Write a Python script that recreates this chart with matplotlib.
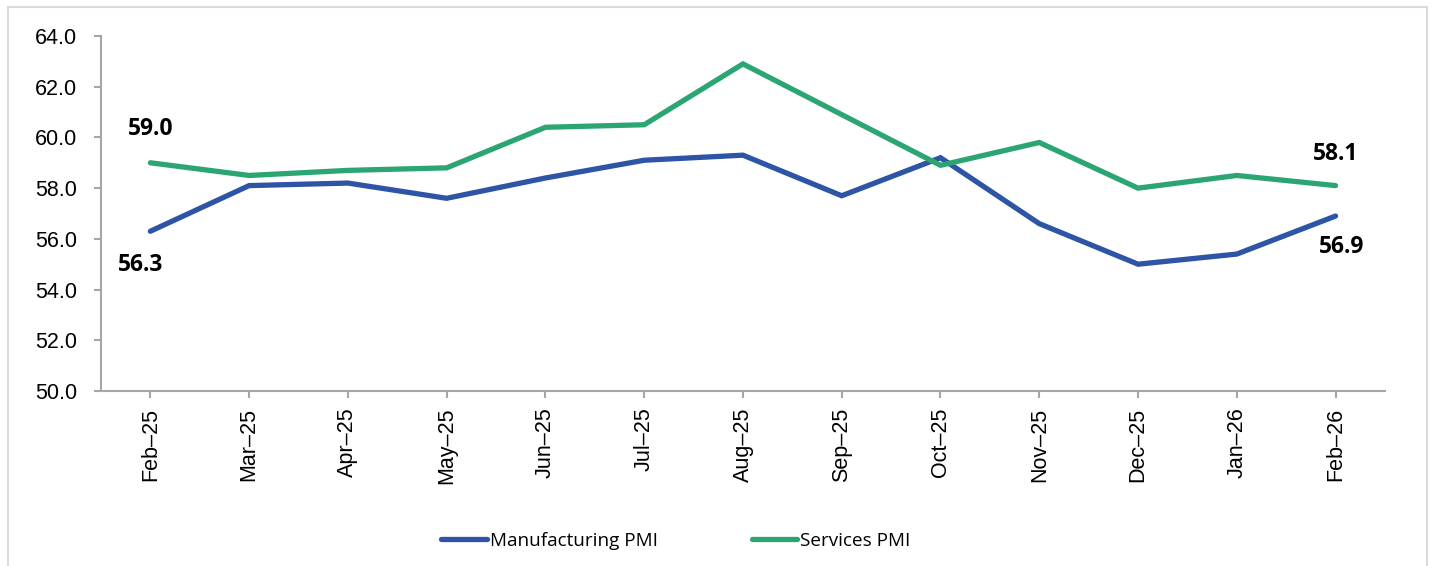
import matplotlib
matplotlib.use("Agg")
import matplotlib.pyplot as plt
from matplotlib.patches import Rectangle

months = ["Feb-25", "Mar-25", "Apr-25", "May-25", "Jun-25", "Jul-25", "Aug-25",
          "Sep-25", "Oct-25", "Nov-25", "Dec-25", "Jan-26", "Feb-26"]
manufacturing = [56.3, 58.1, 58.2, 57.6, 58.4, 59.1, 59.3, 57.7, 59.2, 56.6, 55.0, 55.4, 56.9]
services = [59.0, 58.5, 58.7, 58.8, 60.4, 60.5, 62.9, 60.9, 58.9, 59.8, 58.0, 58.5, 58.1]
yticks = [50.0, 52.0, 54.0, 56.0, 58.0, 60.0, 62.0, 64.0]

blue = "#2E54A6"
green = "#2BA672"
axis_gray = "#A6A6A6"

fig = plt.figure(figsize=(14.34, 5.66), dpi=100)
ax = fig.add_axes([0.0704, 0.3092, 0.8954, 0.6272])

x = list(range(len(months)))
ax.plot(x, manufacturing, color=blue, lw=3.8, solid_joinstyle="miter",
        solid_capstyle="round", label="Manufacturing PMI")
ax.plot(x, services, color=green, lw=3.8, solid_joinstyle="miter",
        solid_capstyle="round", label="Services PMI")

ax.set_xlim(-0.5, len(months) - 0.5)
ax.set_ylim(50, 64)
ax.set_yticks(yticks)
ax.set_yticklabels([f"{v:.1f}" for v in yticks], family="Liberation Sans", fontsize=15.5)
ax.set_xticks(x)
ax.set_xticklabels([m.replace("-", "\u2013") for m in months], rotation=90,
                   family="Liberation Sans", fontsize=15.5)

for s in ["top", "right"]:
    ax.spines[s].set_visible(False)
for s in ["left", "bottom"]:
    ax.spines[s].set_color(axis_gray)
    ax.spines[s].set_linewidth(1.5)
ax.tick_params(axis="y", direction="out", length=5, width=1.5, color=axis_gray, pad=12)
ax.tick_params(axis="x", direction="out", length=5, width=1.5, color=axis_gray, pad=7)

lab_font = dict(family="Open Sans", fontsize=16.5, fontweight="bold", color="black")
ax.annotate(f"{services[0]:.1f}", (x[0], services[0]), xytext=(0, 24),
            textcoords="offset points", ha="center", va="center", **lab_font)
ax.annotate(f"{manufacturing[0]:.1f}", (x[0], manufacturing[0]), xytext=(-7, -24),
            textcoords="offset points", ha="center", va="center", **lab_font)
ax.annotate(f"{services[-1]:.1f}", (x[-1], services[-1]), xytext=(0, 23),
            textcoords="offset points", ha="center", va="center", **lab_font)
ax.annotate(f"{manufacturing[-1]:.1f}", (x[-1], manufacturing[-1]), xytext=(4, -22),
            textcoords="offset points", ha="center", va="center", **lab_font)

leg = fig.legend(loc="center", bbox_to_anchor=(0.4714, 0.044), ncol=2, frameon=False,
                 prop=dict(family="Open Sans", size=13.6), handlelength=2.4,
                 handletextpad=0.15, columnspacing=5.0)

fig.patches.append(Rectangle((0.0056, -0.01), 0.9895, 0.9975, transform=fig.transFigure,
                             fill=False, edgecolor="#D9D9D9", linewidth=1.5))

fig.savefig("out.png", dpi=100)
